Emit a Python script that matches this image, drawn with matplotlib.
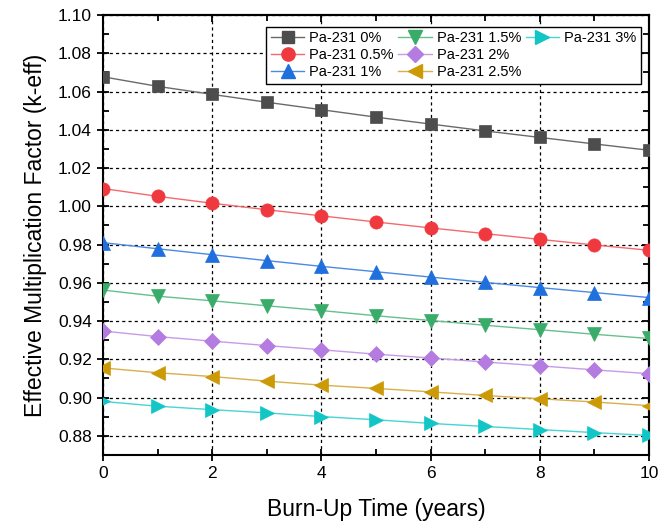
import matplotlib
matplotlib.use("Agg")
import matplotlib.pyplot as plt
from matplotlib.lines import Line2D

plt.rcParams['font.family'] = ['Liberation Sans', 'DejaVu Sans']

years = [0, 1, 2, 3, 4, 5, 6, 7, 8, 9, 10]
labels = ["Pa-231 0%", "Pa-231 0.5%", "Pa-231 1%", "Pa-231 1.5%",
          "Pa-231 2%", "Pa-231 2.5%", "Pa-231 3%"]
k_0 = [1.0677, 1.0627, 1.0585, 1.0544, 1.0505, 1.0466, 1.0430, 1.0394, 1.0360, 1.0326, 1.0293]
k_05 = [1.0093, 1.0052, 1.0016, 0.9982, 0.9950, 0.9918, 0.9887, 0.9857, 0.9827, 0.9798, 0.9770]
k_1 = [0.9810, 0.9778, 0.9747, 0.9716, 0.9686, 0.9658, 0.9630, 0.9602, 0.9575, 0.9549, 0.9523]
k_15 = [0.9562, 0.9530, 0.9506, 0.9480, 0.9455, 0.9428, 0.9403, 0.9378, 0.9355, 0.9331, 0.9309]
k_2 = [0.9348, 0.9319, 0.9295, 0.9272, 0.9250, 0.9227, 0.9207, 0.9186, 0.9166, 0.9145, 0.9125]
k_25 = [0.9155, 0.9130, 0.9110, 0.9086, 0.9065, 0.9048, 0.9030, 0.9011, 0.8994, 0.8977, 0.8958]
k_3 = [0.8980, 0.8955, 0.8937, 0.8920, 0.8901, 0.8884, 0.8865, 0.8849, 0.8833, 0.8817, 0.8802]

series = [k_0, k_05, k_1, k_15, k_2, k_25, k_3]
marker_colors = ["#4d4d4d", "#f0393e", "#1f6fdc", "#3aac6a", "#b47be0", "#cc9a06", "#12c6c6"]
line_colors = ["#6a6a6a", "#f36a6d", "#4a8ae4", "#66c08e", "#c79be8", "#d8b04a", "#4ad4d4"]
markers = ["s", "o", "^", "v", "D", "<", ">"]
msizes = [8.5, 9.5, 9.5, 9.5, 8, 9.5, 9.5]

fig = plt.figure(figsize=(6.59, 5.26), dpi=100)
ax = fig.add_axes([0.1563, 0.135, 0.8285, 0.8365])

handles = []
for vals, lab, mc, lc, m, ms in zip(series, labels, marker_colors, line_colors, markers, msizes):
    ax.plot(years, vals, color=lc, lw=1.0, zorder=3)
    ax.plot(years, vals, linestyle='none', marker=m, markersize=ms,
            markerfacecolor=mc, markeredgecolor=mc, markeredgewidth=0.5, zorder=4)
    h, = ax.plot([], [], color=lc, lw=1.0, marker=m, markersize=ms,
                 markerfacecolor=mc, markeredgecolor=mc, label=lab)
    handles.append(h)

ax.set_xlim(0, 10)
ax.set_ylim(0.87, 1.10)
ax.set_xticks([0, 2, 4, 6, 8, 10])
ax.set_xticks([1, 3, 5, 7, 9], minor=True)
yt = [0.88, 0.90, 0.92, 0.94, 0.96, 0.98, 1.00, 1.02, 1.04, 1.06, 1.08, 1.10]
ax.set_yticks(yt)
ax.set_yticklabels([f"{v:.2f}" for v in yt])
ymin = [0.87 + 0.02 * i for i in range(12)]
ax.set_yticks(ymin, minor=True)

ax.grid(True, which='major', color='black', linestyle=(0, (2.5, 2.5)), linewidth=0.9, zorder=1)
ax.set_axisbelow(True)

for s in ax.spines.values():
    s.set_linewidth(1.5)

ax.tick_params(axis='both', which='major', direction='inout', length=8, width=1.3,
               labelsize=12.5, pad=4)
ax.tick_params(axis='both', which='minor', direction='in', length=4, width=1.3)

top = ax.secondary_xaxis('top')
top.set_xticks([0, 2, 4, 6, 8, 10])
top.set_xticks([1, 3, 5, 7, 9], minor=True)
top.tick_params(which='major', direction='in', length=5, width=1.3, labeltop=False)
top.tick_params(which='minor', direction='in', length=4, width=1.3)
top.spines['top'].set_linewidth(1.5)
right = ax.secondary_yaxis('right')
right.set_yticks(yt)
right.set_yticks(ymin, minor=True)
right.tick_params(which='major', direction='in', length=5, width=1.3, labelright=False)
right.tick_params(which='minor', direction='in', length=4, width=1.3)
right.spines['right'].set_linewidth(1.5)

ax.set_xlabel("Burn-Up Time (years)", fontsize=16.5, labelpad=12)
ax.set_ylabel("Effective Multiplication Factor (k-eff)", fontsize=16.5, labelpad=8)

blank = Line2D([], [], linestyle='none', marker=None)
leg_handles = handles[:6] + [handles[6], blank, blank]
leg_labels = labels[:6] + [labels[6], "", ""]
leg = ax.legend(leg_handles, leg_labels, loc='upper right', bbox_to_anchor=(0.9853, 0.9727),
                borderaxespad=0, ncol=3, fontsize=10.5, frameon=True, fancybox=False,
                edgecolor='black', framealpha=1, handlelength=2.3, handletextpad=0.35,
                columnspacing=0.3, labelspacing=0.2, borderpad=0.3)
leg.get_frame().set_linewidth(1.0)

fig.savefig("out.png", dpi=100)
